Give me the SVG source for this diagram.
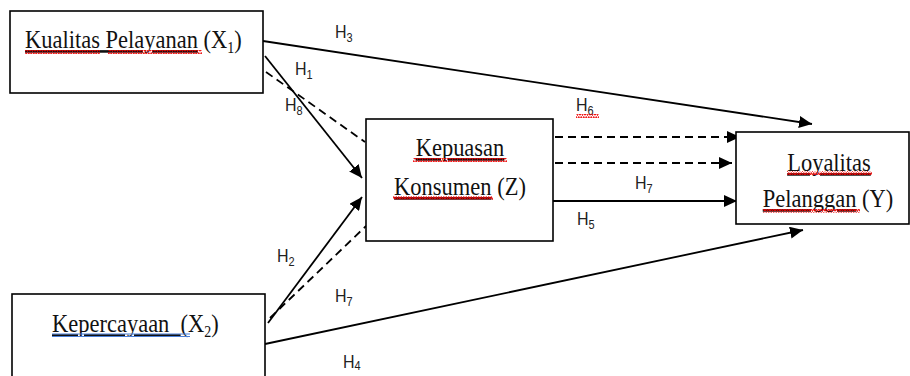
<svg xmlns="http://www.w3.org/2000/svg" width="910" height="376" viewBox="0 0 910 376">
<style>
.box{fill:#fff;stroke:#000;stroke-width:1.6}
.ln{fill:none;stroke:#000;stroke-width:1.8}
.dash{stroke-dasharray:8 5}
.t{font-family:"Liberation Serif","Times New Roman",serif;font-size:22.5px;fill:#111}
.h{font-family:"Liberation Sans",Arial,sans-serif;font-size:16px;fill:#222}
.sub{font-size:14px}
.hs{font-size:11px}
.sq{fill:url(#wave)}
</style>
<defs>
<marker id="ah" markerUnits="userSpaceOnUse" markerWidth="14" markerHeight="12" refX="13" refY="6" orient="auto">
<path d="M0,0 L13,6 L0,12 Z" fill="#000"/>
</marker>
<pattern id="wave" patternUnits="userSpaceOnUse" width="5" height="4">
<path d="M0,3.5 L1.25,0.5 L2.5,3.5 L3.75,0.5 L5,3.5" fill="none" stroke="#e00" stroke-width="1"/>
</pattern>
</defs>
<rect width="910" height="376" fill="#fff"/>

<g id="connectors">
<line id="H3" class="ln" x1="263" y1="41" x2="812" y2="124" marker-end="url(#ah)"/>
<line id="H1" class="ln" x1="265" y1="56" x2="362" y2="178" marker-end="url(#ah)"/>
<line id="H8" class="ln dash" x1="266" y1="72" x2="365" y2="142"/>
<line id="H2" class="ln" x1="268" y1="323" x2="362" y2="197" marker-end="url(#ah)"/>
<line id="H7a" class="ln dash" x1="270" y1="318" x2="366" y2="226"/>
<line id="H4" class="ln" x1="265" y1="344" x2="803" y2="230" marker-end="url(#ah)"/>
<line id="H6" class="ln dash" x1="555" y1="137" x2="740" y2="137" marker-end="url(#ah)"/>
<line id="H7b" class="ln dash" x1="555" y1="163" x2="732" y2="163" marker-end="url(#ah)"/>
<line id="H5" class="ln" x1="553" y1="201" x2="737" y2="201" marker-end="url(#ah)"/>
</g>

<g id="X1">
<rect class="box" x="10" y="11" width="253" height="82"/>
<text class="t" transform="translate(25,48) scale(1,1.15)"><tspan text-decoration="underline">Kualitas Pelayanan</tspan> (X<tspan class="sub" dy="4">1</tspan><tspan dy="-4">)</tspan></text>
<rect class="sq" x="25" y="50" width="75" height="4"/>
<rect class="sq" x="108" y="50" width="94" height="4"/>
</g>

<g id="Z">
<rect class="box" x="366" y="119" width="187" height="122"/>
<text class="t" text-anchor="middle" transform="translate(460,156) scale(1,1.15)"><tspan text-decoration="underline">Kepuasan</tspan></text>
<text class="t" text-anchor="middle" transform="translate(460,195) scale(1,1.15)"><tspan text-decoration="underline">Konsumen</tspan> (Z)</text>
<rect class="sq" x="413" y="158" width="94" height="4"/>
<rect class="sq" x="393" y="196" width="100" height="4"/>
</g>

<g id="Y">
<rect class="box" x="736" y="132" width="173" height="92"/>
<text class="t" text-anchor="middle" transform="translate(829,171) scale(1,1.15)"><tspan text-decoration="underline">Loyalitas</tspan></text>
<text class="t" text-anchor="middle" transform="translate(828,207) scale(1,1.15)"><tspan text-decoration="underline">Pelanggan</tspan> (Y)</text>
<rect class="sq" x="787" y="171" width="85" height="4"/>
<rect class="sq" x="763" y="209" width="97" height="4"/>
</g>

<g id="X2">
<rect class="box" x="12" y="294" width="253" height="84"/>
<text class="t" transform="translate(52,332) scale(1,1.15)"><tspan text-decoration="underline">Kepercayaan&#160;&#160;</tspan>(X<tspan class="sub" dy="4">2</tspan><tspan dy="-4">)</tspan></text>
<line x1="52" y1="334" x2="190" y2="334" stroke="#4a7fd8" stroke-width="1"/>
<line x1="52" y1="336.5" x2="190" y2="336.5" stroke="#4a7fd8" stroke-width="1"/>
</g>

<g id="labels">
<text class="h" transform="translate(335,38) scale(1,1.2)">H<tspan class="hs" dy="3">3</tspan></text>
<text class="h" transform="translate(295,75) scale(1,1.2)">H<tspan class="hs" dy="3">1</tspan></text>
<text class="h" transform="translate(285,111) scale(1,1.2)">H<tspan class="hs" dy="3">8</tspan></text>
<text class="h" transform="translate(576,111) scale(1,1.2)">H<tspan class="hs" dy="3">6</tspan></text>
<rect class="sq" x="576" y="114" width="23" height="4"/>
<text class="h" transform="translate(635,189) scale(1,1.2)">H<tspan class="hs" dy="3">7</tspan></text>
<text class="h" transform="translate(577,225) scale(1,1.2)">H<tspan class="hs" dy="3">5</tspan></text>
<text class="h" transform="translate(277,262) scale(1,1.2)">H<tspan class="hs" dy="3">2</tspan></text>
<text class="h" transform="translate(335,302) scale(1,1.2)">H<tspan class="hs" dy="3">7</tspan></text>
<text class="h" transform="translate(343,368) scale(1,1.2)">H<tspan class="hs" dy="2">4</tspan></text>
</g>
</svg>
